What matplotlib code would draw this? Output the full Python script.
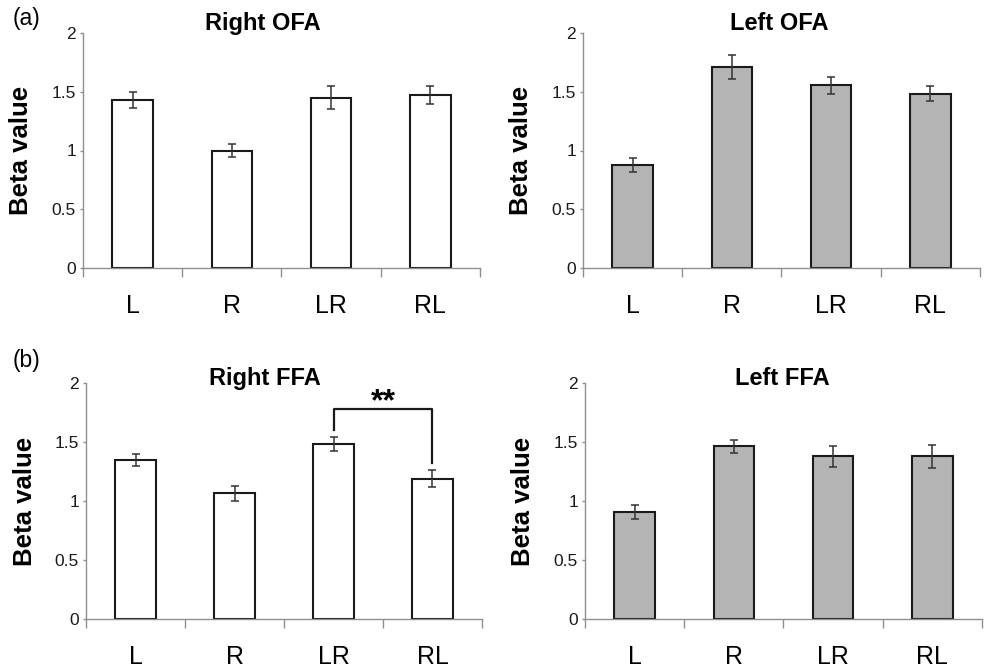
import matplotlib
matplotlib.use("Agg")
import matplotlib.pyplot as plt
import numpy as np

plt.rcParams['font.family'] = ['Liberation Sans', 'DejaVu Sans']

categories = ["L", "R", "LR", "RL"]

right_ofa = [1.43, 1.00, 1.45, 1.47]
right_ofa_err = [0.065, 0.057, 0.10, 0.077]
left_ofa = [0.875, 1.71, 1.555, 1.485]
left_ofa_err = [0.06, 0.105, 0.074, 0.066]
right_ffa = [1.345, 1.065, 1.485, 1.19]
right_ffa_err = [0.052, 0.061, 0.061, 0.07]
left_ffa = [0.91, 1.465, 1.38, 1.38]
left_ffa_err = [0.059, 0.055, 0.09, 0.098]

titles = ["Right OFA", "Left OFA", "Right FFA", "Left FFA"]
yticks = [0, 0.5, 1, 1.5, 2]
yticklabels = ["0", "0.5", "1", "1.5", "2"]

fig = plt.figure(figsize=(9.87, 6.71), dpi=100)

W, H = 987, 671
def ax_at(left, top, right, bottom):
    return fig.add_axes([left / W, 1 - bottom / H, (right - left) / W, (bottom - top) / H])

axes = [
    ax_at(83, 33, 480, 268),
    ax_at(583, 33, 980, 268),
    ax_at(86, 383, 482, 619),
    ax_at(585, 383, 982, 619),
]
data = [(right_ofa, right_ofa_err), (left_ofa, left_ofa_err),
        (right_ffa, right_ffa_err), (left_ffa, left_ffa_err)]
fills = ["white", "#b4b4b4", "white", "#b4b4b4"]
title_x = [0.453, 0.495, 0.452, 0.497]
title_y = [1.013, 1.013, 0.99, 0.99]

spine_col = "#8f8f8f"
x = np.arange(len(categories))
for i, ax in enumerate(axes):
    vals, errs = data[i]
    ax.bar(x, vals, width=0.41, color=fills[i], edgecolor="#1a1a1a", linewidth=1.5, zorder=2)
    ax.errorbar(x, vals, yerr=errs, fmt="none", ecolor="#333333", elinewidth=1.1,
                capsize=2.9, capthick=1.1, zorder=3)
    ax.set_xlim(-0.5, 3.5)
    ax.set_ylim(0, 2)
    for s in ["top", "right"]:
        ax.spines[s].set_visible(False)
    for s in ["left", "bottom"]:
        ax.spines[s].set_color(spine_col)
        ax.spines[s].set_linewidth(1.0)
        ax.spines[s].set_zorder(4)
    ax.set_yticks(yticks)
    ax.set_yticklabels(yticklabels, fontsize=12.5, color="#1a1a1a")
    ax.tick_params(axis="y", length=2.0, width=1.0, color=spine_col, pad=3)
    ax.set_xticks(x)
    ax.set_xticklabels(categories, fontsize=18)
    ax.tick_params(axis="x", which="major", length=0, pad=19)
    ax.set_xticks(np.arange(-0.5, 4.0, 1.0), minor=True)
    ax.tick_params(axis="x", which="minor", length=6.5, width=1.0, color=spine_col, direction="out")
    ax.text(-0.155, 0.5, "Beta value", transform=ax.transAxes, rotation=90,
            ha="center", va="center", fontsize=18.5, fontweight="bold")
    ax.text(title_x[i], title_y[i], titles[i], transform=ax.transAxes,
            ha="center", va="baseline", fontsize=17, fontweight="bold")

# significance bracket on Right FFA
axb = axes[2]
axb.plot([2, 2, 3, 3], [1.60, 1.78, 1.78, 1.32], color="#1a1a1a", linewidth=1.6, zorder=3)
axb.text(2.5, 1.84, "**", ha="center", va="center", fontsize=23, fontweight="bold")

fig.text(13 / W, 1 - 18 / H, "(a)", ha="left", va="center", fontsize=16.5)
fig.text(13 / W, 1 - 360 / H, "(b)", ha="left", va="center", fontsize=16.5)

fig.savefig("out.png", dpi=100)
